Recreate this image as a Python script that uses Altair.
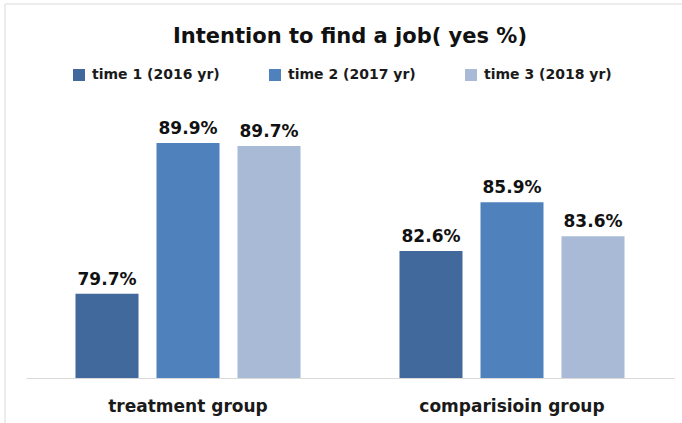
import altair as alt
import pandas as pd

groups = ["treatment group", "comparisioin group"]
times = ["time 1 (2016 yr)", "time 2 (2017 yr)", "time 3 (2018 yr)"]
treatment = [79.7, 89.9, 89.7]
comparison = [82.6, 85.9, 83.6]
colors = ["#41699B", "#4F81BD", "#A9BAD7"]
y_min, y_max = 74, 92

rows = []
for g, vals in zip(groups, [treatment, comparison]):
    for t, v in zip(times, vals):
        rows.append({"group": g, "time": t, "value": v, "label": f"{v:.1f}%"})
df = pd.DataFrame(rows)

FONT = "DejaVu Sans"

x = alt.X("group:N", sort=groups, title=None,
          scale=alt.Scale(paddingInner=0, paddingOuter=0),
          axis=alt.Axis(labelAngle=0, labelFontSize=17, labelFontWeight="bold",
                        labelColor="#1a1a1a", labelFont=FONT, labelPadding=20,
                        labelLimit=400, ticks=False, domainColor="#d9d9d9",
                        domainWidth=1))
xo = alt.XOffset("time:N", sort=times,
                 scale=alt.Scale(paddingInner=0.222, paddingOuter=0.611))
y = alt.Y("value:Q", scale=alt.Scale(domain=[y_min, y_max], zero=False), axis=None)

base = alt.Chart(df)

bars = base.mark_bar().encode(
    x=x, xOffset=xo, y=y, y2=alt.datum(y_min),
    color=alt.Color("time:N", sort=times,
                    scale=alt.Scale(domain=times, range=colors),
                    legend=alt.Legend(title=None, orient="none", direction="horizontal",
                                      legendX=46, legendY=-44, symbolType="square",
                                      symbolSize=144, symbolStrokeWidth=0,
                                      labelFontSize=14, labelFontWeight="bold",
                                      labelFont=FONT, labelColor="#1a1a1a",
                                      labelOffset=6, columnPadding=48,
                                      gridAlign="all", padding=0)),
)

labels = base.mark_text(baseline="alphabetic", dy=-9, fontSize=17, fontWeight="bold",
                        font=FONT, color="#111111").encode(
    x=x, xOffset=xo, y=y, text="label:N"
)

border = alt.Chart(pd.DataFrame({"a": [0]})).mark_rect(
    fill=None, stroke="#d9d9d9", strokeWidth=1
).encode(x=alt.value(-21), x2=alt.value(700), y=alt.value(-108), y2=alt.value(500))

chart = alt.layer(border, bars, labels).properties(
    width=648, height=266,
    background="white",
    autosize=alt.AutoSizeParams(type="none"),
    padding={"left": 26, "top": 112, "right": 8, "bottom": 45},
    title=alt.TitleParams("Intention to find a job( yes %)", fontSize=21,
                          fontWeight="bold", font=FONT, color="#111111",
                          anchor="middle", offset=0, baseline="alphabetic", dy=60),
).configure_view(stroke=None, strokeWidth=0)

chart.save("out.html", embed_options={"renderer": "svg", "actions": False})
